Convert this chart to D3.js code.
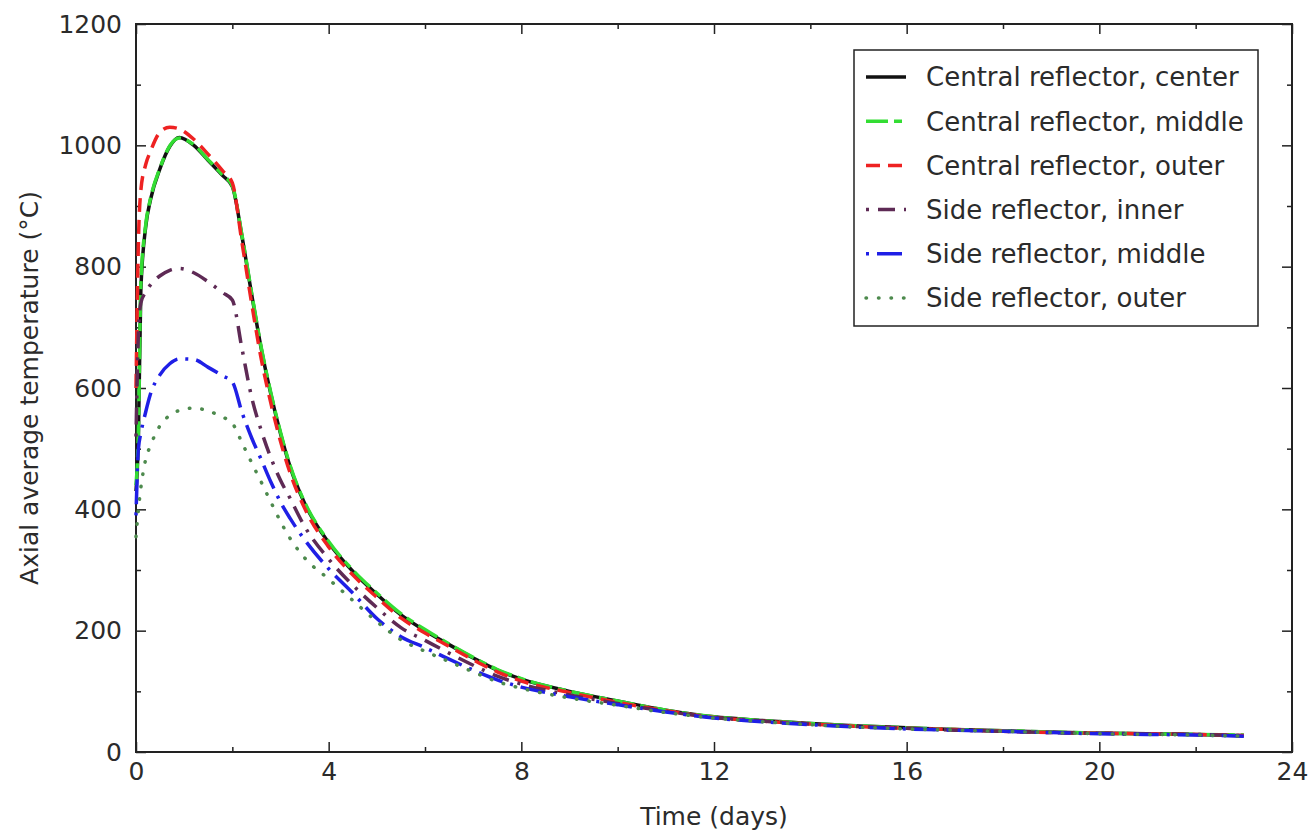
<!DOCTYPE html>
<html>
<head>
<meta charset="utf-8">
<script src="https://cdn.jsdelivr.net/npm/d3@7"></script>
<style>
    body { margin: 0; background: #fff; }
    svg text { font-family: "DejaVu Sans", Verdana, sans-serif; fill: #2b2b2b; }
</style>
</head>
<body>
<svg id="chart" width="1310" height="839"></svg>
<script>
// time axis shared by every series (days)
const days = [0, 0.05, 0.1, 0.2, 0.3, 0.5, 0.7, 0.9, 1.2, 1.5, 1.8, 2.0, 2.2, 2.4, 2.6, 2.8, 3.0, 3.2, 3.5, 4.0,
    4.5, 5, 5.5, 6, 6.5, 7, 7.5, 8, 9, 10, 11, 12, 13, 14, 15, 16, 17, 18, 19, 20, 21, 22, 23];

const centralCenter = [430, 520, 760, 865, 910, 962, 998, 1013, 1000, 975, 950, 932, 850, 755, 665, 590, 525, 470, 410, 345,
    298, 260, 226, 200, 177, 155, 135, 120, 100, 84, 69, 58, 52, 47, 43, 40, 37, 35, 33, 31, 30, 29, 27];
const centralMiddle = [440, 530, 770, 868, 912, 963, 999, 1012, 1001, 976, 951, 933, 852, 757, 667, 592, 527, 472, 412, 347,
    300, 262, 228, 202, 178, 156, 136, 121, 100, 84, 69, 58, 52, 47, 43, 40, 37, 35, 33, 31, 30, 29, 28];
const centralOuter = [600, 840, 925, 968, 990, 1022, 1030, 1027, 1010, 985, 958, 938, 840, 740, 648, 575, 512, 460, 402, 338,
    292, 255, 221, 196, 174, 152, 132, 117, 98, 82, 68, 57, 51, 46, 42, 39, 37, 34, 32, 31, 30, 29, 27];
const sideInner = [520, 690, 740, 758, 770, 785, 794, 797, 790, 775, 757, 745, 665, 585, 530, 485, 448, 418, 372, 318,
    275, 238, 205, 184, 163, 143, 125, 112, 94, 80, 67, 57, 51, 46, 42, 39, 36, 34, 32, 31, 30, 29, 27];
const sideMiddle = [390, 500, 525, 560, 590, 622, 640, 648, 647, 634, 620, 610, 560, 518, 482, 445, 412, 385, 350, 302,
    262, 220, 190, 172, 153, 135, 119, 107, 91, 78, 66, 56, 50, 45, 41, 38, 36, 34, 32, 30, 29, 28, 26];
const sideOuter = [355, 400, 435, 482, 505, 538, 555, 563, 567, 562, 552, 542, 510, 477, 445, 412, 380, 352, 320, 285,
    250, 215, 185, 166, 149, 132, 116, 105, 89, 77, 65, 56, 50, 45, 41, 38, 36, 34, 32, 30, 29, 28, 26];

const seriesNames = ["Central reflector, center", "Central reflector, middle", "Central reflector, outer",
    "Side reflector, inner", "Side reflector, middle", "Side reflector, outer"];
const seriesValues = [centralCenter, centralMiddle, centralOuter, sideInner, sideMiddle, sideOuter];

const xTicks = [0, 4, 8, 12, 16, 20, 24];
const xMinorTicks = [2, 6, 10, 14, 18, 22];
const yTicks = [0, 200, 400, 600, 800, 1000, 1200];
const yMinorTicks = [100, 300, 500, 700, 900, 1100];

const xTitle = "Time (days)";
const yTitle = "Axial average temperature (°C)";

// line look for each series, same order as seriesNames
const lineStyles = [
    { color: "#111111", dash: null, cap: "butt" },
    { color: "#33dd33", dash: "22,6,8,6", cap: "butt" },
    { color: "#ee2222", dash: "14,8", cap: "butt" },
    { color: "#5e2a55", dash: "3,9,17,9", cap: "butt" },
    { color: "#1f1fe6", dash: "3,8,25,8", cap: "butt" },
    { color: "#4d8a4d", dash: "0.5,12", cap: "round" }
];

const svg = d3.select("#chart");
const margin = { top: 24, right: 18, bottom: 87, left: 136 };
const width = +svg.attr("width") - margin.left - margin.right;
const height = +svg.attr("height") - margin.top - margin.bottom;

const x = d3.scaleLinear().domain([0, 24]).range([0, width]);
const y = d3.scaleLinear().domain([0, 1200]).range([height, 0]);

const plot = svg.append("g")
    .attr("transform", "translate(" + margin.left + "," + margin.top + ")");

function addAxis(axis, transform) {
    const g = plot.append("g")
        .attr("transform", transform)
        .call(axis);
    g.select(".domain").remove();
    g.selectAll("line")
        .attr("stroke", "#222")
        .attr("stroke-width", 1.5);
    g.selectAll("text")
        .attr("font-size", 25)
        .attr("font-family", '"DejaVu Sans", Verdana, sans-serif')
        .attr("fill", "#2b2b2b");
    return g;
}

// major + minor ticks, all pointing inward, labels only bottom/left
addAxis(d3.axisBottom(x).tickValues(xTicks).tickSize(-10).tickPadding(10).tickFormat(d3.format("d")),
    "translate(0," + height + ")");
addAxis(d3.axisBottom(x).tickValues(xMinorTicks).tickSize(-5).tickFormat(""),
    "translate(0," + height + ")");
addAxis(d3.axisTop(x).tickValues(xTicks).tickSize(-10).tickFormat(""), "translate(0,0)");
addAxis(d3.axisTop(x).tickValues(xMinorTicks).tickSize(-5).tickFormat(""), "translate(0,0)");

addAxis(d3.axisLeft(y).tickValues(yTicks).tickSize(-10).tickPadding(14).tickFormat(d3.format("d")),
    "translate(0,0)");
addAxis(d3.axisLeft(y).tickValues(yMinorTicks).tickSize(-5).tickFormat(""), "translate(0,0)");
addAxis(d3.axisRight(y).tickValues(yTicks).tickSize(-10).tickFormat(""), "translate(" + width + ",0)");
addAxis(d3.axisRight(y).tickValues(yMinorTicks).tickSize(-5).tickFormat(""), "translate(" + width + ",0)");

plot.append("rect")
    .attr("width", width)
    .attr("height", height)
    .attr("fill", "none")
    .attr("stroke", "#222")
    .attr("stroke-width", 2);

const line = d3.line()
    .x((d, i) => x(days[i]))
    .y(d => y(d))
    .curve(d3.curveMonotoneX);

plot.append("g")
    .attr("id", "lines")
    .selectAll("path")
    .data(seriesValues)
    .join("path")
    .attr("d", line)
    .attr("fill", "none")
    .attr("stroke", (d, i) => lineStyles[i].color)
    .attr("stroke-width", 3.5)
    .attr("stroke-dasharray", (d, i) => lineStyles[i].dash)
    .attr("stroke-linecap", (d, i) => lineStyles[i].cap)
    .attr("stroke-linejoin", "round");

// legend box, top right
const legend = svg.append("g")
    .attr("id", "legend")
    .attr("transform", "translate(854,50)");

legend.append("rect")
    .attr("width", 404)
    .attr("height", 276)
    .attr("fill", "#fff")
    .attr("stroke", "#222")
    .attr("stroke-width", 1.5);

const rows = legend.selectAll("g.row")
    .data(seriesNames)
    .join("g")
    .attr("class", "row")
    .attr("transform", (d, i) => "translate(0," + (27 + i * 44.2) + ")");

rows.append("line")
    .attr("x1", 12)
    .attr("x2", 52)
    .attr("stroke", (d, i) => lineStyles[i].color)
    .attr("stroke-width", 3.5)
    .attr("stroke-dasharray", (d, i) => lineStyles[i].dash)
    .attr("stroke-linecap", (d, i) => lineStyles[i].cap);

rows.append("text")
    .attr("x", 72)
    .attr("dy", "0.36em")
    .attr("font-size", 26)
    .text(d => d);

svg.append("text")
    .attr("x", margin.left + width / 2)
    .attr("y", 825)
    .attr("text-anchor", "middle")
    .attr("font-size", 25)
    .text(xTitle);

svg.append("text")
    .attr("transform", "translate(38," + (margin.top + height / 2) + ") rotate(-90)")
    .attr("text-anchor", "middle")
    .attr("font-size", 25)
    .text(yTitle);
</script>
</body>
</html>
